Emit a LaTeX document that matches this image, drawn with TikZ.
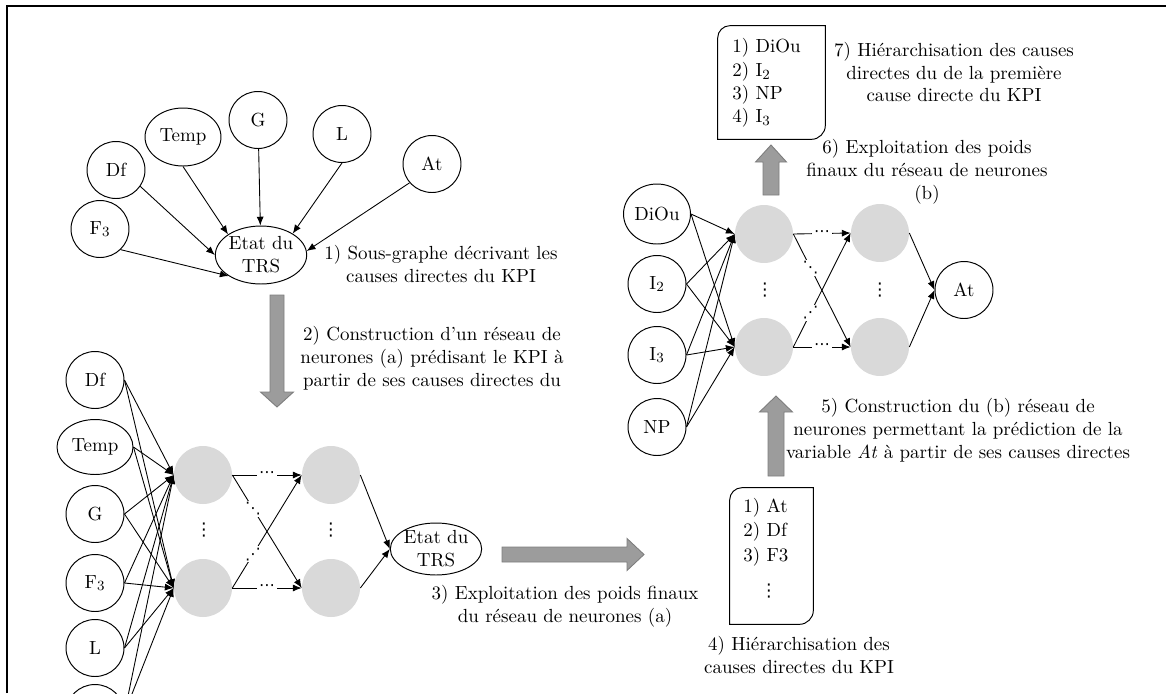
\documentclass[tikz,border=0pt]{standalone}
\usepackage{fontspec}
\usepackage{tikz}
\usetikzlibrary{shapes.geometric,arrows.meta}

\newfontfamily\dotsfont{DejaVu Sans}
\definecolor{hidgray}{RGB}{217,217,217}
\definecolor{fatgray}{RGB}{156,156,156}
\definecolor{fatedge}{RGB}{125,125,125}

\tikzset{
  var/.style={ellipse, draw, line width=0.55pt, minimum width=1.16cm, minimum height=1.14cm,
    inner sep=0pt, align=center, font=\fontsize{10.8}{13}\selectfont},
  neuron/.style={circle, fill=hidgray, minimum size=1.16cm, inner sep=0pt},
  link/.style={-{Latex[length=5pt,width=4pt]}, line width=0.5pt},
  label/.style={align=center, font=\fontsize{10.8}{13}\selectfont, inner sep=0pt},
  dots/.style={fill=white, inner sep=1pt, font=\dotsfont\fontsize{9}{10}\selectfont},
  vdots/.style={inner sep=0pt, font=\dotsfont\fontsize{10}{11}\selectfont},
  fatarrow/.style={fill=fatgray, draw=fatedge, line width=0.5pt},
}

% cadre a coins arrondis (haut gauche et bas droite)
\newcommand{\cutbox}[1]{%
  \draw[line width=0.55pt] (#1.south west) -- ([yshift=-7pt]#1.north west)
    to[out=90,in=180] ([xshift=7pt]#1.north west) -- (#1.north east)
    -- ([yshift=8pt]#1.south east) to[out=-90,in=0] ([xshift=-8pt]#1.south east) -- cycle;}

\begin{document}
\begin{tikzpicture}[x=0.02cm, y=-0.02cm]
\useasboundingbox (0,0) rectangle (1166,693);
\clip (0,0) rectangle (1166,693);
% cadre
\draw[line width=0.9pt] (7,693) -- (7,6) -- (1166,6);

% 1) sous-graphe des causes directes
\node[var] (tF3) at (100,229) {F$_3$};
\node[var] (tDf) at (116,170) {Df};
\node[var, minimum width=1.52cm, minimum height=1.16cm] (tTemp) at (183,137) {Temp};
\node[var] (tG) at (258,120) {G};
\node[var] (tL) at (342,134) {L};
\node[var] (tAt) at (432,164) {At};
\node[var, minimum width=1.8cm, minimum height=1.16cm] (tEtat) at (261,255) {Etat du\\TRS};
\draw[link] (tF3.-45) -- (tEtat.213);
\draw[link] (tDf.-34) -- (tEtat.180);
\draw[link] (tTemp.-90) -- (tEtat.148);
\draw[link] (tG) -- (tEtat);
\draw[link] (tL.-90) -- (tEtat.34);
\draw[link] (tAt.220) -- (tEtat.5);
\node[label] (txt1) at (441,264) {1) Sous-graphe d\'ecrivant les\\causes directes du KPI};

% 2) reseau de neurones (a)
\filldraw[fatarrow] (270,295) -- (284,295) -- (284,392) -- (293.5,392) -- (277,407)
  -- (260.5,392) -- (270,392) -- cycle;
\node[label] (txt2) at (432,358) {2) Construction d'un r\'eseau de\\neurones (a) pr\'edisant le KPI \`a\\partir de ses causes directes du};

\node[var] (aDf) at (95,380) {Df};
\node[var, minimum width=1.52cm, minimum height=1.1cm] (aTemp) at (95,447) {Temp};
\node[var] (aG) at (95,514) {G};
\node[var] (aF3) at (95,583) {F$_3$};
\node[var] (aL) at (95,648) {L};
\node[var] (aAt) at (95,713) {};
\node[neuron] (h1) at (203,475) {};
\node[neuron] (h2) at (203,588) {};
\node[neuron] (h3) at (331,475) {};
\node[neuron] (h4) at (331,588) {};
\node[vdots] (va1) at (204,530) {⋮};
\node[vdots] (va2) at (331,530) {⋮};
\node[var, minimum width=1.8cm, minimum height=1.04cm] (aEtat) at (436,549) {Etat du\\TRS};
\foreach \n in {aDf,aTemp,aG,aF3,aL,aAt}
  \foreach \h in {h1,h2}
    \draw[link] (\n.east) -- (\h.west);
\draw[link] (h1.east) -- node[dots] {⋯} (h3.west);
\draw[link] (h2.east) -- node[dots] {⋯} (h4.west);
\draw[link] (h1.east) -- node[dots, pos=0.3] {⋱} (h4.west);
\draw[link] (h2.east) -- node[dots, pos=0.3] {⋰} (h3.west);
\draw[link] (h3.east) -- (aEtat.west);
\draw[link] (h4.east) -- (aEtat.west);

% 3) poids finaux (a) et 4) hierarchisation
\filldraw[fatarrow] (502,547) -- (627,547) -- (627,538.5) -- (644,554.5) -- (627,570.5)
  -- (627,562) -- (502,562) -- cycle;
\node[label] (txt3) at (565,606) {3) Exploitation des poids finaux\\du r\'eseau de neurones (a)};
\node[minimum width=1.66cm, minimum height=2.72cm] (rankA) at (771.5,556) {};
\cutbox{rankA}
\node[label, align=left, anchor=west, font=\fontsize{10.8}{13.9}\selectfont] (listA) at (743,532) {1) At\\2) Df\\3) F3};
\node[vdots] (vdA) at (769,591) {⋮};
\node[label] (txt4) at (799,655) {4) Hi\'erarchisation des\\causes directes du KPI};

% 5) reseau de neurones (b)
\filldraw[fatarrow] (768,476) -- (768,412) -- (759.5,412) -- (776,396) -- (792.5,412)
  -- (784,412) -- (784,476) -- cycle;
\node[label] (txt5) at (958,430) {5) Construction du (b) r\'eseau de\\neurones permettant la pr\'ediction de la\\variable \textit{At} \`a partir de ses causes directes};

\node[var, minimum width=1.34cm, minimum height=1.2cm] (bDiOu) at (657,214) {DiOu};
\node[var] (bI2) at (657,284) {I$_2$};
\node[var] (bI3) at (657,355) {I$_3$};
\node[var] (bNP) at (657,427) {NP};
\node[neuron] (g1) at (764,234) {};
\node[neuron] (g2) at (764,347) {};
\node[neuron] (g3) at (880,233) {};
\node[neuron] (g4) at (880,347) {};
\node[vdots] (vb1) at (765,290) {⋮};
\node[vdots] (vb2) at (880,290) {⋮};
\node[var] (bAt) at (964,290) {At};
\foreach \n in {bDiOu,bI2,bI3,bNP}
  \foreach \h in {g1,g2}
    \draw[link] (\n.east) -- (\h.west);
\draw[link] (g1.east) -- node[dots] {⋯} (g3.west);
\draw[link] (g2.east) -- node[dots] {⋯} (g4.west);
\draw[link] (g1.east) -- node[dots, pos=0.3] {⋱} (g4.west);
\draw[link] (g2.east) -- node[dots, pos=0.3] {⋰} (g3.west);
\draw[link] (g3.east) -- (bAt.west);
\draw[link] (g4.east) -- (bAt.west);

% 6) poids finaux (b) et 7) hierarchisation
\filldraw[fatarrow] (763,195) -- (763,162) -- (755.5,162) -- (771,145) -- (786.5,162)
  -- (779,162) -- (779,195) -- cycle;
\node[label] (txt6) at (927,172) {6) Exploitation des poids\\finaux du r\'eseau de neurones\\(b)};
\node[minimum width=2.14cm, minimum height=2.26cm] (rankB) at (771.5,82.5) {};
\cutbox{rankB}
\node[label, align=left, anchor=west, font=\fontsize{10.8}{13.2}\selectfont] (listB) at (732,83) {1) DiOu\\2) I$_2$\\3) NP\\4) I$_3$};
\node[label] (txt7) at (954,72) {7) Hi\'erarchisation des causes\\directes du de la premi\`ere\\cause directe du KPI};
\end{tikzpicture}
\end{document}
